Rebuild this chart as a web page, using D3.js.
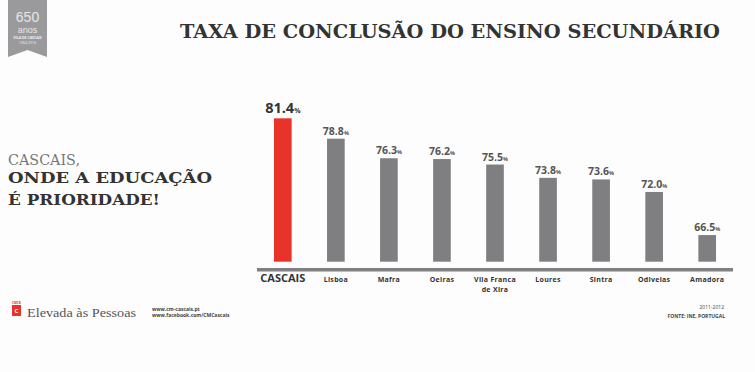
<!DOCTYPE html>
<html>
<head>
<meta charset="utf-8">
<script src="https://cdn.jsdelivr.net/npm/d3@7"></script>
<style>
  body { margin: 0; background: #fff; }
  svg { display: block; }
</style>
</head>
<body>
<div id="chart"></div>
<script>
// data
let municipios = ["CASCAIS", "Lisboa", "Mafra", "Oeiras", "Vila Franca de Xira", "Loures", "Sintra", "Odivelas", "Amadora"];
let taxas = [81.4, 78.8, 76.3, 76.2, 75.5, 73.8, 73.6, 72.0, 66.5];
let titulo = "TAXA DE CONCLUSÃO DO ENSINO SECUNDÁRIO";
let fonte = "FONTE: INE, PORTUGAL";
let periodo = "2011-2012";

let width = 755, height = 372;
let slab = "'DejaVu Serif', serif";
let sans = "'Open Sans', 'Liberation Sans', sans-serif";

let svg = d3.select("#chart").append("svg")
  .attr("width", width)
  .attr("height", height);

svg.append("rect").attr("width", width).attr("height", height).attr("fill", "#fdfdfd");

// 650 anos ribbon
svg.append("polygon")
  .attr("points", "8,0 47,0 47,57 27.5,50 8,57")
  .attr("fill", "#9a9a9c");
svg.append("text").attr("x", 27.5).attr("y", 22).attr("text-anchor", "middle")
  .style("font", "300 14px 'Liberation Sans', sans-serif").attr("fill", "#e6e6e6").text("650");
svg.append("text").attr("x", 27.5).attr("y", 33).attr("text-anchor", "middle")
  .style("font", "300 9px 'Liberation Sans', sans-serif").attr("fill", "#e6e6e6").text("anos");
svg.append("text").attr("x", 27.5).attr("y", 38.5).attr("text-anchor", "middle")
  .style("font", "700 3.5px " + sans).attr("fill", "#eee").text("VILA DE CASCAIS");
svg.append("text").attr("x", 27.5).attr("y", 43.5).attr("text-anchor", "middle")
  .style("font", "400 3.5px " + sans).attr("fill", "#eee").text("1364-2014");

// title
svg.append("text")
  .attr("x", 180).attr("y", 38)
  .attr("textLength", 540).attr("lengthAdjust", "spacingAndGlyphs")
  .style("font", "700 18px " + slab)
  .attr("fill", "#333")
  .text(titulo);

// left tagline
svg.append("text").attr("x", 8).attr("y", 165)
  .attr("textLength", 72).attr("lengthAdjust", "spacingAndGlyphs")
  .style("font", "300 15px " + slab).attr("fill", "#777").text("CASCAIS,");
svg.append("text").attr("x", 8).attr("y", 182.5)
  .attr("textLength", 204).attr("lengthAdjust", "spacingAndGlyphs")
  .style("font", "700 15.5px " + slab).attr("fill", "#333").text("ONDE A EDUCAÇÃO");
svg.append("text").attr("x", 8).attr("y", 205)
  .attr("textLength", 152).attr("lengthAdjust", "spacingAndGlyphs")
  .style("font", "700 15.5px " + slab).attr("fill", "#333").text("É PRIORIDADE!");

// scales
let x = d3.scaleBand()
  .domain(municipios)
  .range([257, 733])
  .paddingInner(0.667)
  .paddingOuter(0.32);

let y = d3.scaleLinear()
  .domain([63.1, 81.4])
  .range([261.7, 118.3]);

// bars
svg.append("g")
  .selectAll("rect")
  .data(municipios)
  .join("rect")
  .attr("x", d => x(d))
  .attr("y", (d, i) => y(taxas[i]))
  .attr("width", x.bandwidth())
  .attr("height", (d, i) => y.range()[0] - y(taxas[i]))
  .attr("fill", (d, i) => i === 0 ? "#e8332a" : "#7f7f82");

// axis line
svg.append("rect")
  .attr("x", x.range()[0]).attr("y", 268)
  .attr("width", x.range()[1] - x.range()[0]).attr("height", 3.5)
  .attr("fill", "#808083");

// value labels
let labels = svg.append("g")
  .selectAll("text")
  .data(municipios)
  .join("text")
  .attr("x", d => x(d) + x.bandwidth() / 2)
  .attr("y", (d, i) => y(taxas[i]) - (i === 0 ? 5 : 4))
  .attr("text-anchor", "middle")
  .attr("fill", (d, i) => i === 0 ? "#333" : "#555")
  .style("font", (d, i) => i === 0 ? "700 14.5px " + sans : "700 10.5px " + sans);
labels.append("tspan").text((d, i) => taxas[i].toFixed(1));
labels.append("tspan")
  .style("font-size", (d, i) => i === 0 ? "7px" : "5.5px")
  .text("%");

// category labels (Vila Franca de Xira wraps to two lines)
let catLines = [];
municipios.forEach((d, i) => {
  let parts = d === "Vila Franca de Xira" ? ["Vila Franca", "de Xira"] : [d];
  parts.forEach((p, j) => catLines.push({ cat: d, text: p, line: j, first: i === 0 }));
});

svg.append("g")
  .selectAll("text")
  .data(catLines)
  .join("text")
  .attr("x", d => x(d.cat) + x.bandwidth() / 2)
  .attr("y", d => 281.8 + d.line * 9.7)
  .attr("text-anchor", "middle")
  .attr("fill", "#333")
  .style("letter-spacing", d => d.first ? "0px" : "0.3px")
  .style("font", d => d.first ? "700 11px " + sans : "700 7px " + sans)
  .text(d => d.text);

// footer left
svg.append("text").attr("x", 12).attr("y", 304)
  .style("font", "700 3px " + sans).attr("fill", "#e8332a").text("CMCB");
svg.append("rect").attr("x", 12).attr("y", 305).attr("width", 9).attr("height", 11).attr("fill", "#e8332a");
svg.append("text").attr("x", 16.5).attr("y", 313).attr("text-anchor", "middle")
  .style("font", "700 6px " + sans).attr("fill", "#fff").text("C");
svg.append("text").attr("x", 27).attr("y", 317)
  .attr("textLength", 109).attr("lengthAdjust", "spacingAndGlyphs")
  .style("font", "400 13px 'Liberation Serif', serif").attr("fill", "#555").text("Elevada às Pessoas");
svg.append("text").attr("x", 152).attr("y", 311)
  .style("font", "700 5px " + sans).attr("fill", "#444").text("www.cm-cascais.pt");
svg.append("text").attr("x", 152).attr("y", 317)
  .style("font", "700 5px " + sans).attr("fill", "#444").text("www.facebook.com/CMCascais");

// footer right
svg.append("text").attr("x", 724).attr("y", 309).attr("text-anchor", "end")
  .style("font", "400 5px " + sans).attr("fill", "#444").text(periodo);
svg.append("text").attr("x", 725).attr("y", 318).attr("text-anchor", "end")
  .style("font", "700 5px " + sans).attr("fill", "#444").text(fonte);
</script>
</body>
</html>
